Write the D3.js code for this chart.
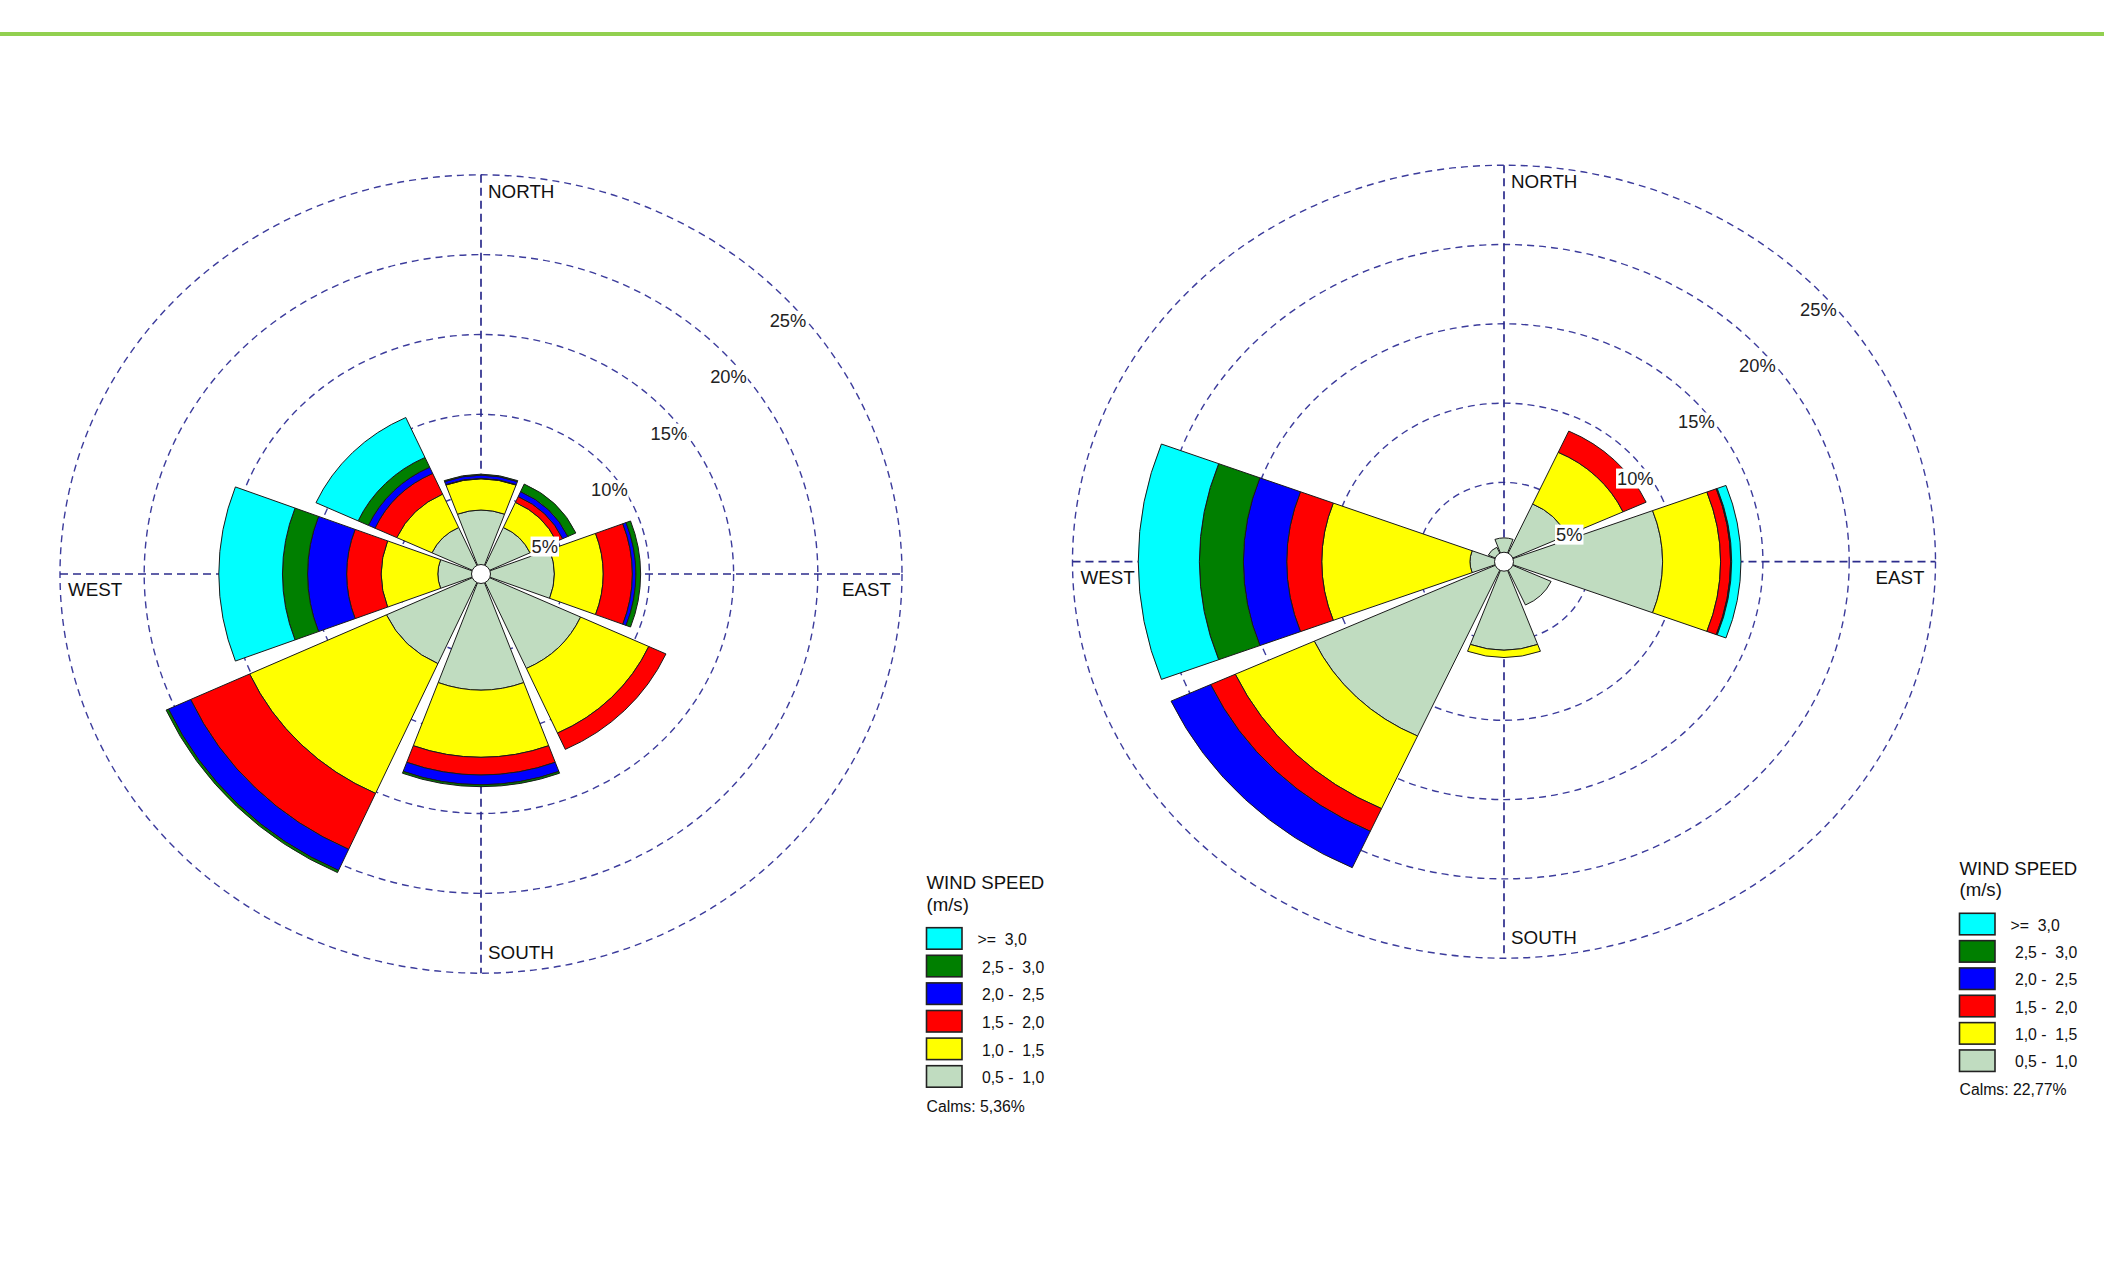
<!DOCTYPE html>
<html><head><meta charset="utf-8">
<script src="https://cdn.jsdelivr.net/npm/d3@7"></script>
<style>
html,body{margin:0;padding:0;background:#fff;}
svg{display:block;}
text{font-family:"Liberation Sans",Arial,sans-serif;}
</style></head><body>
<svg id="chart" width="2104" height="1261"></svg>
<script>
// ---------- data ----------
const directions = ["N","NE","E","SE","S","SW","W","NW"];
const directionAngles = [0,45,90,135,180,225,270,315];
const speedBins = ["0,5 -  1,0","1,0 -  1,5","1,5 -  2,0","2,0 -  2,5","2,5 -  3,0",">=  3,0"];
const ringTicks = [5,10,15,20,25];
const ringLabels = ["5%","10%","15%","20%","25%"];
const compassLabels = ["NORTH","EAST","SOUTH","WEST"];
const legendTitle = ["WIND SPEED","(m/s)"];

// left rose: frequency (%) per direction for each speed class
const left_05_10 = [4.00, 3.20, 4.35, 6.50, 7.26, 6.17, 2.56, 3.20];
const left_10_15 = [1.95, 1.73, 2.91, 4.45, 4.22, 8.93, 3.36, 2.30];
const left_15_20 = [0.03, 0.40, 1.73, 1.12, 1.11, 3.85, 2.06, 1.42];
const left_20_25 = [0.20, 0.34, 0.21, 0.00, 0.61, 1.45, 2.32, 0.43];
const left_25_30 = [0.06, 0.52, 0.28, 0.00, 0.12, 0.15, 1.49, 0.67];
const left_30up  = [0.00, 0.00, 0.00, 0.00, 0.00, 0.00, 3.78, 2.75];
const leftCalms = "Calms: 5,36%";

// right rose
const right_05_10 = [1.50, 4.00, 9.19, 3.00, 5.57, 12.08, 1.97, 1.00];
const right_10_15 = [0.00, 3.58, 3.36, 0.00, 0.46, 5.03, 8.59, 0.00];
const right_15_20 = [0.00, 1.47, 0.58, 0.00, 0.00, 1.57, 2.03, 0.00];
const right_20_25 = [0.00, 0.00, 0.03, 0.00, 0.00, 2.52, 2.51, 0.00];
const right_25_30 = [0.00, 0.00, 0.03, 0.00, 0.00, 0.00, 2.55, 0.00];
const right_30up  = [0.00, 0.00, 0.54, 0.00, 0.00, 0.00, 3.54, 0.00];
const rightCalms = "Calms: 22,77%";

// ---------- style ----------
const binColors = ["#c0dcc0","#ffff00","#ff0000","#0000ff","#007f00","#00ffff"];
const ringColor = "#3c3c9c";
const axisColor = "#2c2c8c";
const inkColor = "#1a1a1a";

const svg = d3.select("#chart");
svg.append("rect").attr("width",2104).attr("height",1261).attr("fill","#fff");
svg.append("line").attr("x1",0).attr("x2",2104).attr("y1",34).attr("y2",34)
  .attr("stroke","#92d050").attr("stroke-width",4);

const rad = d => d*Math.PI/180;
const halfWidth = rad(20.5);

function labelWithBox(parent, x, y, txt, size, anchor){
  const gg = parent.append("g");
  const rect = gg.append("rect").attr("fill","#fff");
  const t = gg.append("text").attr("x",x).attr("y",y).attr("font-size",size)
    .attr("fill","#222").attr("text-anchor",anchor||"start").text(txt);
  const bb = t.node().getBBox();
  rect.attr("x",bb.x-1).attr("y",bb.y+1).attr("width",bb.width+2).attr("height",bb.height-1);
}

function drawRose(cfg, series){
  const {cx, cy, rx, ry} = cfg;
  const k = rx/ry;
  const r = d3.scaleLinear().domain([0,25]).range([0,ry]);
  const g = svg.append("g").attr("transform",`translate(${cx},${cy}) scale(${k},1)`);

  g.selectAll("circle.ring").data(ringTicks).join("circle").attr("class","ring")
    .attr("r",d=>r(d)).attr("fill","none").attr("stroke",ringColor)
    .attr("stroke-width",1.4).attr("stroke-dasharray","7,5")
    .attr("vector-effect","non-scaling-stroke");

  const R = r(d3.max(ringTicks));
  [[-R,0,R,0],[0,-R,0,R]].forEach(([x1,y1,x2,y2])=>{
    g.append("line").attr("x1",x1).attr("y1",y1).attr("x2",x2).attr("y2",y2)
      .attr("stroke",axisColor).attr("stroke-width",1.7).attr("stroke-dasharray","8,5")
      .attr("vector-effect","non-scaling-stroke");
  });

  const rows = directions.map((d,i)=>{
    const o = {dir:d, angle:directionAngles[i]};
    series.forEach((s,j)=>{ o[speedBins[j]] = s[i]; });
    return o;
  });
  const stacked = d3.stack().keys(speedBins)(rows);
  const arc = d3.arc();
  g.selectAll("g.layer").data(stacked).join("g").attr("class","layer")
    .attr("fill",(d,i)=>binColors[i])
    .selectAll("path").data(d=>d.filter(v=>v[1]-v[0]>0)).join("path")
    .attr("d",v=>arc({innerRadius:r(v[0]),outerRadius:r(v[1]),
      startAngle:rad(v.data.angle)-halfWidth,endAngle:rad(v.data.angle)+halfWidth}))
    .attr("stroke",inkColor).attr("stroke-width",1)
    .attr("stroke-linejoin","miter")
    .attr("vector-effect","non-scaling-stroke");

  svg.append("circle").attr("cx",cx).attr("cy",cy).attr("r",9.5)
    .attr("fill","#fff").attr("stroke",inkColor).attr("stroke-width",1);

  // compass labels
  const lab = svg.append("g").attr("fill","#111").attr("font-size",18.8);
  lab.append("text").attr("x",cx+7).attr("y",cy-ry+23).text(compassLabels[0]);
  lab.append("text").attr("x",cx+rx-11).attr("y",cy+22).attr("text-anchor","end").text(compassLabels[1]);
  lab.append("text").attr("x",cx+7).attr("y",cy+ry-14).text(compassLabels[2]);
  lab.append("text").attr("x",cx-rx+8).attr("y",cy+22).text(compassLabels[3]);

  // ring labels
  ringTicks.forEach((p,i)=>{
    const f = p/25*Math.SQRT1_2;
    labelWithBox(svg, cx + rx*f - 9, cy - ry*f + 35, ringLabels[i], 18.3, "start");
  });
}

function drawLegend(x, titleY, boxTop, step, calmsY, calms){
  const g = svg.append("g");
  g.append("text").attr("x",x).attr("y",titleY).attr("font-size",18.6).attr("fill","#111").text(legendTitle[0]);
  g.append("text").attr("x",x).attr("y",titleY+21.5).attr("font-size",18.6).attr("fill","#111").text(legendTitle[1]);
  const order = d3.range(speedBins.length).reverse();
  order.forEach((bi,row)=>{
    const y = boxTop + row*step;
    g.append("rect").attr("x",x).attr("y",y).attr("width",35.5).attr("height",21.5)
      .attr("fill",binColors[bi]).attr("stroke","#222").attr("stroke-width",1.6);
    const label = bi === speedBins.length-1 ? speedBins[bi] : " " + speedBins[bi];
    g.append("text").attr("x",x+51).attr("y",y+17.5).attr("font-size",15.8)
      .attr("fill","#111").style("white-space","pre").text(label);
  });
  g.append("text").attr("x",x).attr("y",calmsY).attr("font-size",15.8).attr("fill","#111").text(calms);
}

drawRose({cx:481, cy:574, rx:421, ry:399.2},
  [left_05_10,left_10_15,left_15_20,left_20_25,left_25_30,left_30up]);
drawRose({cx:1504, cy:561.7, rx:431.5, ry:396.5},
  [right_05_10,right_10_15,right_15_20,right_20_25,right_25_30,right_30up]);

drawLegend(926.5, 889, 927.7, 27.6, 1111.5, leftCalms);
drawLegend(1959.5, 874.5, 913.3, 27.33, 1095, rightCalms);
</script>
</body></html>
